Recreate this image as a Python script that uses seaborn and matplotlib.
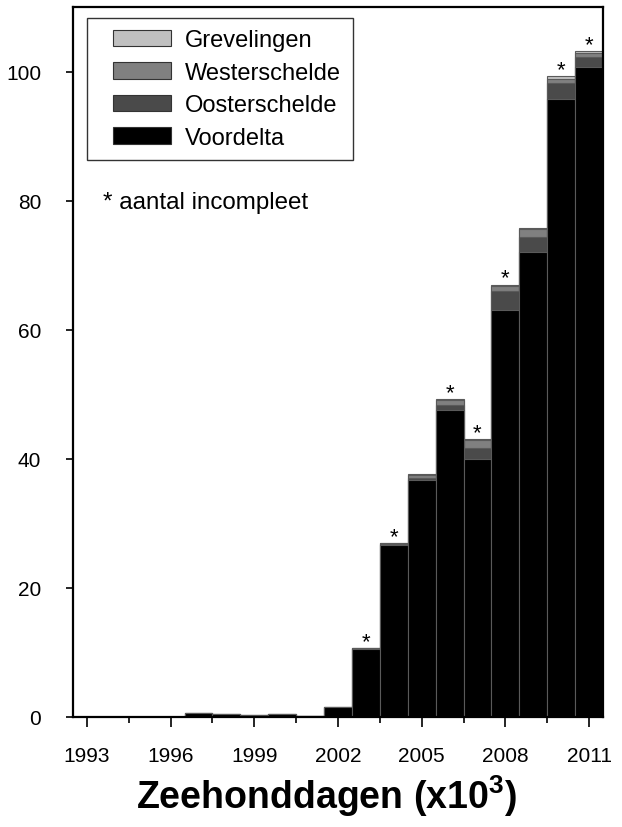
import numpy as np
import pandas as pd
import matplotlib
matplotlib.use("Agg")
import matplotlib.pyplot as plt
from matplotlib.patches import Patch
from matplotlib.legend_handler import HandlerPatch
from matplotlib.ticker import MultipleLocator, FixedLocator
import seaborn as sns

years = list(range(1993, 2012))
voordelta     = [0.05, 0.05, 0.05, 0.05, 0.55, 0.4, 0.3, 0.5, 0.1, 1.5, 10.5, 26.6, 36.7, 47.5, 39.9, 63.1, 72.0, 95.7, 100.7]
oosterschelde = [0.0, 0.0, 0.0, 0.0, 0.03, 0.03, 0.03, 0.03, 0.03, 0.1, 0.15, 0.2, 0.3, 0.8, 1.8, 2.85, 2.3, 2.5, 1.55]
westerschelde = [0.0, 0.0, 0.0, 0.0, 0.0, 0.0, 0.0, 0.0, 0.0, 0.0, 0.05, 0.1, 0.5, 0.75, 1.2, 0.85, 1.3, 0.65, 0.7]
grevelingen   = [0.0, 0.0, 0.0, 0.0, 0.0, 0.0, 0.0, 0.0, 0.0, 0.0, 0.0, 0.05, 0.1, 0.15, 0.2, 0.2, 0.15, 0.5, 0.2]
incomplete_years = [2003, 2004, 2006, 2007, 2008, 2010, 2011]

region_names = ["Grevelingen", "Westerschelde", "Oosterschelde", "Voordelta"]
region_colors = ["#c0c0c0", "#808080", "#4a4a4a", "#000000"]

df = pd.DataFrame({
    "year": years,
    "Voordelta": voordelta,
    "Oosterschelde": oosterschelde,
    "Westerschelde": westerschelde,
    "Grevelingen": grevelingen,
})
df["cum_V"] = df["Voordelta"]
df["cum_O"] = df["cum_V"] + df["Oosterschelde"]
df["cum_W"] = df["cum_O"] + df["Westerschelde"]
df["cum_G"] = df["cum_W"] + df["Grevelingen"]

sns.set_theme(style="white")
plt.rcParams["font.family"] = ["Liberation Sans", "DejaVu Sans"]
plt.rcParams["text.color"] = "black"
plt.rcParams["axes.labelcolor"] = "black"
plt.rcParams["xtick.color"] = "black"
plt.rcParams["ytick.color"] = "black"
plt.rcParams["mathtext.fontset"] = "custom"
plt.rcParams["mathtext.rm"] = "Liberation Sans"
plt.rcParams["mathtext.bf"] = "Liberation Sans:bold"

fig = plt.figure(figsize=(6.22, 8.28), dpi=100)
ax = fig.add_axes([0.1174, 0.1329, 0.8521, 0.8574])

layers = [("cum_G", region_colors[0]), ("cum_W", region_colors[1]),
          ("cum_O", region_colors[2]), ("cum_V", region_colors[3])]
for col, colr in layers:
    sns.barplot(data=df, x="year", y=col, native_scale=True, width=1.0,
                color=colr, saturation=1, edgecolor="#5a5a5a", linewidth=0.8,
                ax=ax, errorbar=None)

# asterisks for incomplete counts
for yr in incomplete_years:
    tot = float(df.loc[df["year"] == yr, "cum_G"].iloc[0])
    ax.text(yr, tot + 0.15, "*", ha="center", va="baseline", fontsize=16, color="black")

ax.set_xlim(1992.5, 2011.5)
ax.set_ylim(0, 110)
ax.xaxis.set_major_locator(FixedLocator(list(range(1993, 2012, 3))))
ax.xaxis.set_minor_locator(FixedLocator([y + 1.5 for y in range(1993, 2010, 3)]))
ax.set_xticklabels([str(y) for y in range(1993, 2012, 3)])
ax.yaxis.set_major_locator(MultipleLocator(20))

for s in ax.spines.values():
    s.set_visible(True)
    s.set_color("black")
    s.set_linewidth(1.6)

ax.tick_params(axis="x", which="major", direction="out", length=7, width=1.2, color="black",
               labelsize=15, pad=14, bottom=True)
ax.tick_params(axis="x", which="minor", direction="out", length=4, width=1.2, color="black", bottom=True)
ax.tick_params(axis="y", which="major", direction="out", length=5, width=1.2, color="black",
               labelsize=15, pad=18, left=True)

ax.set_xlabel(r"Zeehonddagen (x10$^{\mathbf{3}}$)", fontsize=27, fontweight="bold", labelpad=5)
ax.xaxis.label.set_x(0.478)
ax.set_ylabel("")

handles = [Patch(facecolor=c, edgecolor="#333333", linewidth=0.8) for c in region_colors]
leg = ax.legend(handles, region_names, loc="upper left", bbox_to_anchor=(0.026, 0.985),
                fontsize=17, frameon=True, fancybox=False, edgecolor="black",
                handlelength=3.07, handleheight=0.7, handletextpad=0.6,
                labelspacing=0.44, borderpad=0.5, borderaxespad=0.0,
                handler_map={Patch: HandlerPatch(xpad=0.6)})
leg.get_frame().set_linewidth(1.0)

ax.text(0.057, 0.725, "* aantal incompleet", transform=ax.transAxes,
        fontsize=17.4, ha="left", va="center", color="black")

fig.savefig("out.png", dpi=100)
